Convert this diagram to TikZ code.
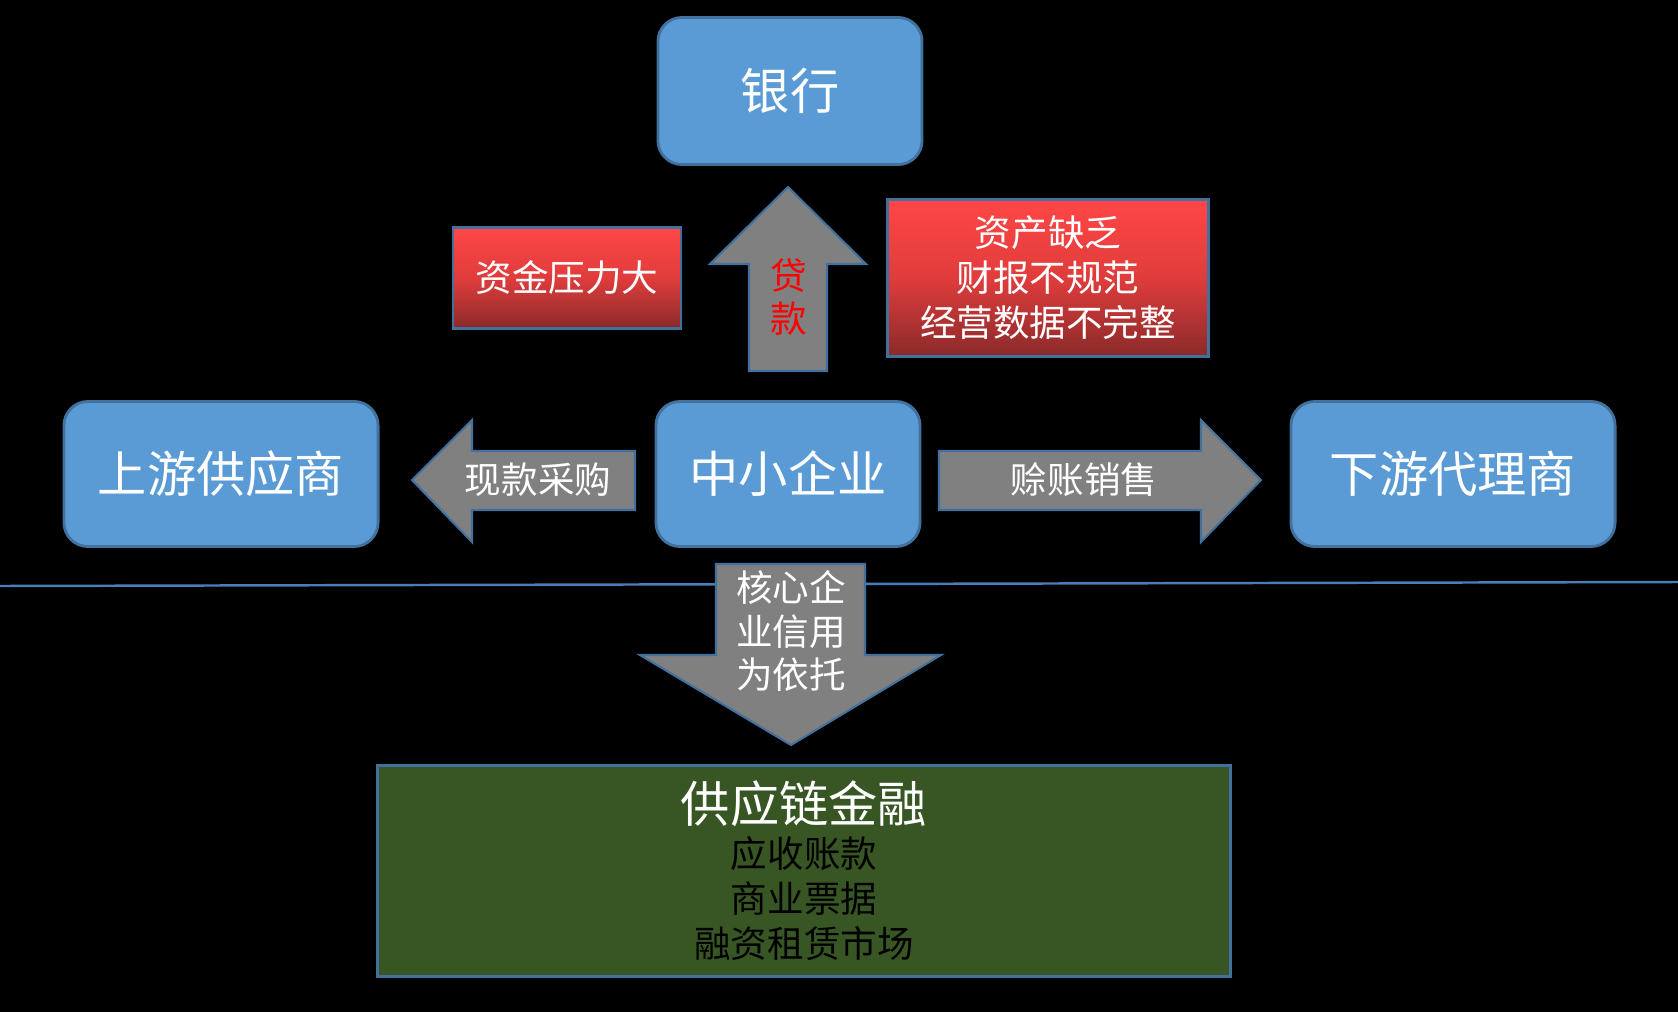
\documentclass[tikz,border=0pt]{standalone}
\usepackage{fontspec}
\newfontfamily\cjk{Noto Sans CJK SC}
\usetikzlibrary{positioning}
\definecolor{boxblue}{HTML}{5B9BD5}
\definecolor{edgeblue}{HTML}{41719C}
\definecolor{arrowgray}{HTML}{808080}
\definecolor{chaingreen}{HTML}{385623}
\definecolor{redtop}{HTML}{FF4646}
\definecolor{redmid}{HTML}{E03C3C}
\definecolor{redbottom}{HTML}{8A2A2A}
\definecolor{splitblue}{HTML}{4A7EBB}
\begin{document}
\begin{tikzpicture}[x=0.01cm, y=-0.01cm, inner sep=0mm,
		partystyle/.style={draw=edgeblue, line width=0.8pt, fill=boxblue, rounded corners=0.24cm,
			text=white, font=\cjk\fontsize{14}{17}\selectfont},
		issuestyle/.style={draw=edgeblue, line width=0.8pt, top color=redtop, bottom color=redbottom,
			middle color=redmid, text=white, align=center, font=\cjk\fontsize{10.4}{12.8}\selectfont},
		arrowstyle/.style={draw=edgeblue, line width=0.6pt, fill=arrowgray},
		labelstyle/.style={text=white, align=center, font=\cjk\fontsize{10.4}{12.4}\selectfont}]

		\useasboundingbox (0,0) rectangle (1678,1012);
		\fill[black] (-5,-5) rectangle (1683,1017);

		\draw[splitblue, line width=0.7pt] (0,586) -- (1678,582);

		\draw[arrowstyle] (788,187) -- (866,264) -- (827,264) -- (827,371) -- (749,371) -- (749,264) -- (710,264) -- cycle;
		\draw[arrowstyle] (412,480) -- (472,420) -- (472,451) -- (635,451) -- (635,510) -- (472,510) -- (472,542) -- cycle;
		\draw[arrowstyle] (1261,480) -- (1201,542) -- (1201,510) -- (939,510) -- (939,451) -- (1201,451) -- (1201,420) -- cycle;
		\draw[arrowstyle] (791,745) -- (941,655) -- (865,655) -- (865,564) -- (716,564) -- (716,655) -- (640,655) -- cycle;

		\node[labelstyle, text=red] (loan) at (789,297) {贷\\款};
		\node[labelstyle] (cash) at (538,480) {现款采购};
		\node[labelstyle] (credit) at (1084,480) {赊账销售};
		\node[labelstyle] (core) at (791,631) {核心企\\业信用\\为依托};

		\node[partystyle, minimum width=2.64cm, minimum height=1.47cm] (bank) at (790,91) {银行};
		\node[partystyle, minimum width=2.64cm, minimum height=1.45cm] (sme) at (788,474) {中小企业};
		\node[partystyle, minimum width=3.14cm, minimum height=1.45cm] (upstream) at (221,474) {上游供应商};
		\node[partystyle, minimum width=3.24cm, minimum height=1.45cm] (downstream) at (1453,474) {下游代理商};

		\node[issuestyle, minimum width=2.28cm, minimum height=1.01cm] (pressure) at (567,278) {资金压力大};
		\node[issuestyle, minimum width=3.21cm, minimum height=1.57cm] (weakness) at (1048,278) {资产缺乏\\财报不规范\\经营数据不完整};

		\node[draw=edgeblue, line width=0.8pt, fill=chaingreen, minimum width=8.52cm, minimum height=2.11cm,
			align=center, font=\cjk\fontsize{10.4}{12.8}\selectfont] (chain) at (804,871)
			{{\color{white}\fontsize{14}{16}\selectfont 供应链金融}\\应收账款\\商业票据\\融资租赁市场};

		\end{tikzpicture}
\end{document}
